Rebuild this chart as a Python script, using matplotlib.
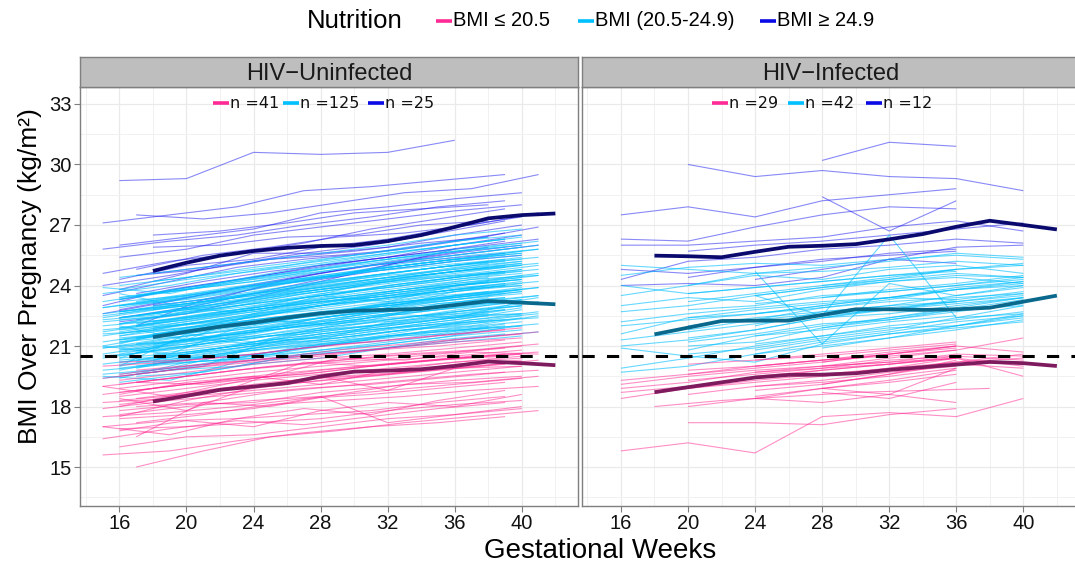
import matplotlib
matplotlib.use("Agg")
import matplotlib.pyplot as plt
from matplotlib.collections import LineCollection
from matplotlib.lines import Line2D
from matplotlib.ticker import MultipleLocator

# ---------------------------------------------------------------------------
# Data: BMI trajectories per woman, (first visit week, BMI at every 4 weeks)
# ---------------------------------------------------------------------------
STEP = 4

UNINF_HIGH = [
    (16, [29.2, 29.3, 30.6, 30.5, 30.6, 31.2]),
    (15, [27.1, 27.5, 27.9, 28.7, 28.9, 29.2, 29.5]),
    (17, [27.5, 27.3, 27.6, 28.1, 28.6, 28.8, 29.5]),
    (16, [26.0, 26.4, 26.8, 27.6, 27.9, 28.3, 28.6]),
    (15, [25.8, 26.2, 26.5, 27.0, 27.4, 27.9, 28.2]),
    (18, [26.5, 26.7, 27.1, 27.6, 27.8, 28.0]),
    (16, [25.4, 25.8, 26.5, 26.9, 27.3, 27.7, 28.0]),
    (15, [24.6, 25.2, 25.6, 26.1, 26.8, 27.3, 27.8]),
    (17, [24.8, 25.5, 25.9, 26.4, 26.6, 27.0, 27.6]),
    (16, [24.3, 25.0, 25.3, 25.9, 26.3, 26.9, 27.4]),
    (18, [25.9, 26.0, 26.4, 26.5, 27.0, 27.2]),
    (15, [24.0, 24.5, 25.1, 25.6, 26.0, 26.6, 27.2]),
    (16, [23.8, 24.6, 25.6, 25.6, 25.9, 26.5, 27.0]),
    (17, [24.5, 24.8, 25.3, 25.5, 25.8, 26.3, 26.9]),
    (15, [23.5, 24.2, 24.9, 25.3, 25.6, 26.1, 26.6]),
    (16, [23.3, 23.9, 24.4, 25.0, 25.4, 26.0, 26.5]),
    (18, [24.6, 25.0, 25.4, 25.7, 26.1, 26.4]),
    (15, [23.0, 23.8, 24.3, 24.8, 25.3, 25.7, 26.2]),
    (16, [22.8, 23.4, 24.0, 24.6, 25.1, 25.6, 26.0]),
    (17, [23.6, 24.2, 24.7, 25.1, 25.5, 25.9, 26.3]),
    (15, [22.6, 23.2, 23.9, 24.5, 25.0, 25.3, 25.6]),
    (16, [22.4, 22.9, 23.6, 24.3, 24.8, 25.2, 25.5]),
    (18, [23.0, 23.4, 24.3, 24.9, 25.4, 25.9]),
    (16, [22.2, 22.6, 23.4, 24.2, 25.0, 25.8]),
    (17, [22.0, 23.3, 24.0, 24.5, 25.2, 25.6, 26.0]),
]

UNINF_MID = [
    (16, [19.2, 19.6, 20.1, 20.4, 20.9, 21.2, 21.5]),
    (15, [19.4, 19.8, 20.0, 20.6, 20.8, 21.3, 21.6]),
    (17, [19.5, 19.7, 20.3, 20.7, 21.0, 21.4, 21.7]),
    (16, [19.6, 20.0, 20.5, 20.8, 21.1, 21.5, 21.8]),
    (18, [19.7, 20.2, 20.6, 21.0, 21.4, 21.9]),
    (15, [19.8, 20.1, 20.4, 21.0, 21.3, 21.7, 22.0]),
    (16, [19.9, 20.3, 20.8, 21.2, 21.5, 21.9, 22.2]),
    (17, [20.0, 20.4, 20.6, 21.1, 21.6, 21.8, 22.1]),
    (16, [20.0, 20.6, 21.0, 21.3, 21.7, 22.0, 22.4]),
    (15, [20.1, 20.5, 20.9, 21.4, 21.8, 22.1, 22.3]),
    (18, [20.2, 20.7, 21.1, 21.5, 21.9, 22.2]),
    (16, [20.2, 20.5, 21.0, 21.6, 22.0, 22.4, 22.6]),
    (17, [20.3, 20.8, 21.2, 21.5, 21.9, 22.3, 22.7]),
    (15, [20.4, 20.9, 21.3, 21.7, 22.0, 22.5, 22.8]),
    (16, [20.4, 20.7, 21.1, 21.8, 22.1, 22.4, 22.9]),
    (16, [20.5, 21.0, 21.5, 21.9, 22.3, 22.7, 23.0]),
    (18, [20.6, 21.0, 21.4, 21.8, 22.2, 22.6]),
    (15, [20.6, 21.1, 21.6, 22.0, 22.4, 22.8, 23.1]),
    (17, [20.7, 21.0, 21.5, 22.0, 22.3, 22.8, 23.2]),
    (16, [20.8, 21.3, 21.7, 22.1, 22.5, 22.9, 23.3]),
    (16, [20.8, 21.1, 21.6, 22.2, 22.6, 23.0, 23.2]),
    (15, [20.9, 21.4, 21.8, 22.3, 22.7, 23.1, 23.4]),
    (18, [21.0, 21.5, 21.9, 22.3, 22.8, 23.2]),
    (16, [21.0, 21.3, 21.8, 22.4, 22.9, 23.3, 23.6]),
    (17, [21.1, 21.6, 22.0, 22.5, 22.8, 23.2, 23.5]),
    (15, [21.2, 21.7, 22.1, 22.5, 23.0, 23.4, 23.7]),
    (16, [21.2, 21.5, 22.0, 22.6, 23.1, 23.5, 23.8]),
    (16, [21.3, 21.8, 22.3, 22.7, 23.0, 23.3, 23.7]),
    (18, [21.4, 21.9, 22.3, 22.8, 23.2, 23.6]),
    (17, [21.4, 21.7, 22.2, 22.7, 23.1, 23.6, 23.9]),
    (15, [21.5, 22.0, 22.4, 22.9, 23.3, 23.6, 24.0]),
    (16, [21.5, 21.9, 22.5, 22.8, 23.2, 23.7, 24.1]),
    (16, [21.6, 22.1, 22.4, 23.0, 23.4, 23.8, 24.0]),
    (17, [21.7, 22.0, 22.6, 23.0, 23.5, 23.9, 24.2]),
    (15, [21.7, 22.2, 22.7, 23.1, 23.4, 23.8, 24.1]),
    (18, [21.8, 22.3, 22.8, 23.2, 23.6, 24.0]),
    (16, [21.8, 22.1, 22.6, 23.1, 23.6, 24.0, 24.3]),
    (16, [21.9, 22.4, 22.8, 23.3, 23.7, 24.1, 24.4]),
    (17, [22.0, 22.5, 22.9, 23.3, 23.8, 24.1, 24.5]),
    (15, [22.0, 22.3, 22.8, 23.4, 23.8, 24.2, 24.6]),
    (16, [22.1, 22.6, 23.0, 23.5, 23.9, 24.3, 24.6]),
    (16, [22.1, 22.4, 22.9, 23.4, 24.0, 24.4, 24.7]),
    (18, [22.2, 22.7, 23.1, 23.6, 24.0, 24.4]),
    (17, [22.3, 22.8, 23.2, 23.6, 24.1, 24.5, 24.8]),
    (15, [22.3, 22.6, 23.1, 23.7, 24.2, 24.6, 24.9]),
    (16, [22.4, 22.9, 23.3, 23.8, 24.2, 24.6, 25.0]),
    (16, [22.4, 22.8, 23.4, 23.9, 24.3, 24.7, 25.1]),
    (17, [22.5, 23.0, 23.5, 23.9, 24.4, 24.8, 25.1]),
    (15, [22.6, 23.0, 23.4, 24.0, 24.5, 24.9, 25.2]),
    (18, [22.6, 23.1, 23.6, 24.0, 24.5, 24.9]),
    (16, [22.7, 23.1, 23.6, 24.1, 24.6, 25.0, 25.3]),
    (16, [22.7, 23.2, 23.7, 24.2, 24.6, 25.0, 25.4]),
    (17, [22.8, 23.2, 23.8, 24.3, 24.7, 25.1, 25.4]),
    (15, [22.9, 23.3, 23.8, 24.3, 24.8, 25.2, 25.5]),
    (16, [22.9, 23.4, 23.9, 24.4, 24.9, 25.3, 25.6]),
    (16, [23.0, 23.5, 24.0, 24.5, 24.9, 25.3, 25.7]),
    (18, [23.1, 23.6, 24.1, 24.6, 25.0, 25.4]),
    (17, [23.1, 23.6, 24.1, 24.6, 25.1, 25.5, 25.8]),
    (15, [23.2, 23.7, 24.2, 24.7, 25.2, 25.6, 25.9]),
    (16, [23.3, 23.8, 24.2, 24.8, 25.2, 25.7, 26.0]),
    (16, [23.4, 23.9, 24.4, 24.8, 25.3, 25.8, 26.1]),
    (17, [23.5, 24.0, 24.5, 25.0, 25.4, 25.8, 26.2]),
    (15, [23.6, 24.0, 24.6, 25.1, 25.5, 25.9, 26.3]),
    (16, [23.8, 24.3, 24.7, 25.1, 25.6, 26.0, 26.4]),
    (16, [24.0, 24.4, 24.9, 25.3, 25.7, 26.2, 26.5]),
    (18, [24.2, 24.6, 25.0, 25.5, 26.0, 26.4]),
    (16, [24.4, 24.8, 25.2, 25.6, 26.0, 26.5, 26.8]),
    (15, [23.9, 23.6, 24.3, 24.9, 25.4, 25.9, 26.3]),
    (16, [19.4, 20.2, 20.4, 21.1, 21.5, 21.6, 22.0]),
    (15, [19.6, 19.9, 20.7, 21.0, 21.2, 21.6, 22.1]),
    (17, [19.9, 20.5, 20.9, 21.2, 21.7, 22.3, 22.6]),
    (16, [20.1, 20.3, 20.9, 21.5, 21.9, 22.1, 22.5]),
    (18, [20.3, 20.9, 21.3, 21.6, 22.1, 22.5]),
    (15, [20.5, 20.8, 21.4, 21.6, 22.0, 22.4, 22.8]),
    (16, [20.6, 21.2, 21.5, 22.0, 22.4, 22.6, 23.0]),
    (17, [20.8, 21.2, 21.8, 22.1, 22.4, 22.9, 23.4]),
    (16, [20.9, 21.3, 21.7, 22.4, 22.8, 23.0, 23.3]),
    (15, [21.0, 21.6, 22.0, 22.3, 22.7, 23.2, 23.6]),
    (18, [21.1, 21.4, 22.0, 22.5, 22.9, 23.4]),
    (16, [21.3, 21.6, 22.2, 22.6, 23.0, 23.5, 23.9]),
    (17, [21.4, 21.9, 22.4, 22.7, 23.2, 23.5, 23.9]),
    (16, [21.5, 22.1, 22.6, 23.0, 23.3, 23.8, 24.2]),
    (15, [21.6, 21.8, 22.3, 22.9, 23.4, 23.7, 24.0]),
    (16, [21.7, 22.2, 22.7, 23.2, 23.5, 24.0, 24.3]),
    (18, [21.9, 22.2, 22.7, 23.3, 23.7, 24.2]),
    (17, [22.0, 22.4, 22.9, 23.4, 23.8, 24.3, 24.5]),
    (16, [22.1, 22.7, 23.1, 23.5, 24.0, 24.4, 24.8]),
    (15, [22.2, 22.5, 23.0, 23.6, 24.0, 24.4, 24.7]),
    (16, [22.4, 22.8, 23.2, 23.7, 24.2, 24.7, 25.0]),
    (17, [22.5, 22.9, 23.4, 23.8, 24.3, 24.6, 25.0]),
    (16, [22.6, 23.1, 23.5, 24.0, 24.4, 24.8, 25.2]),
    (18, [22.8, 23.3, 23.7, 24.2, 24.6, 25.1]),
    (15, [22.9, 23.4, 23.9, 24.2, 24.7, 25.0, 25.3]),
    (16, [23.0, 23.3, 23.8, 24.4, 24.8, 25.2, 25.5]),
    (17, [23.2, 23.7, 24.2, 24.5, 25.0, 25.4, 25.8]),
    (16, [23.4, 23.8, 24.3, 24.7, 25.1, 25.5, 25.9]),
    (15, [19.5, 19.3, 20.2, 20.6, 21.0, 21.4, 21.9]),
    (16, [19.8, 20.4, 20.6, 21.0, 21.5, 21.8, 22.0]),
    (17, [20.2, 20.5, 21.0, 21.3, 21.8, 22.0, 22.5]),
    (16, [20.3, 20.6, 21.2, 21.6, 21.9, 22.3, 22.8]),
    (18, [20.5, 20.9, 21.5, 21.9, 22.2, 22.7]),
    (16, [20.7, 21.0, 21.4, 21.8, 22.3, 22.7, 23.0]),
    (15, [20.9, 21.2, 21.7, 22.1, 22.5, 22.8, 23.3]),
    (17, [21.1, 21.4, 21.9, 22.4, 22.8, 23.1, 23.5]),
    (16, [21.2, 21.8, 22.2, 22.5, 22.9, 23.4, 23.8]),
    (16, [21.4, 21.7, 22.1, 22.6, 23.1, 23.4, 23.7]),
    (18, [21.6, 22.1, 22.5, 22.9, 23.4, 23.7]),
    (15, [21.8, 22.1, 22.6, 23.0, 23.5, 23.9, 24.2]),
    (16, [21.9, 22.3, 22.8, 23.2, 23.6, 24.0, 24.5]),
    (17, [22.1, 22.6, 23.0, 23.4, 23.8, 24.2, 24.6]),
    (16, [22.3, 22.6, 23.1, 23.6, 23.9, 24.4, 24.8]),
    (15, [22.5, 22.9, 23.3, 23.8, 24.3, 24.6, 25.0]),
    (16, [22.7, 23.0, 23.6, 23.9, 24.4, 24.9, 25.2]),
    (18, [23.0, 23.4, 23.8, 24.3, 24.8, 25.2]),
    (16, [23.2, 23.5, 24.0, 24.4, 24.9, 25.3, 25.6]),
    (17, [23.5, 23.9, 24.3, 24.8, 25.2, 25.6, 26.0]),
    (16, [20.0, 21.6, 21.2, 21.9, 22.6, 22.4, 23.2]),
    (15, [21.0, 20.6, 21.9, 22.0, 22.3, 23.1, 23.4]),
    (16, [22.0, 21.3, 22.6, 23.5, 23.2, 24.0, 24.3]),
    (17, [19.6, 20.0, 21.3, 21.4, 21.8, 22.2, 22.4]),
    (16, [23.6, 22.9, 23.6, 24.1, 24.5, 24.8, 25.1]),
    (18, [20.1, 20.3, 20.8, 21.2, 21.7, 22.0]),
    (16, [20.4, 21.4, 21.1, 21.3, 22.2, 22.5, 22.6]),
    (15, [22.4, 22.9, 22.7, 23.4, 24.1, 24.4, 24.7]),
    (16, [21.1, 21.9, 22.3, 22.1, 22.9, 23.7, 24.0]),
]

UNINF_LOW = [
    (15, [15.6, 15.8, 16.3, 16.7, 17.0, 17.2, 17.5]),
    (16, [16.0, 16.5, 16.6, 17.0, 17.4, 17.6, 18.0]),
    (17, [15.0, 15.8, 16.5, 16.8, 17.2, 17.5, 17.8]),
    (15, [16.4, 16.9, 17.3, 17.1, 17.5, 17.9, 18.2]),
    (16, [16.9, 17.0, 17.2, 17.4, 17.8, 18.1, 18.3]),
    (15, [17.0, 17.3, 17.4, 17.6, 17.8, 18.2, 18.5]),
    (16, [17.4, 17.6, 17.9, 18.5, 17.2, 17.6, 17.9]),
    (17, [17.2, 17.6, 18.1, 18.3, 18.5, 18.8, 19.0]),
    (15, [17.5, 17.7, 18.0, 18.4, 18.6, 18.9, 19.2]),
    (16, [17.6, 18.0, 18.3, 18.5, 18.8, 19.1, 19.4]),
    (16, [17.8, 18.1, 18.2, 18.7, 19.0, 19.3, 19.5]),
    (15, [17.9, 18.3, 18.6, 18.9, 19.1, 19.4, 19.7]),
    (17, [18.0, 18.2, 18.7, 19.0, 19.3, 19.6, 19.8]),
    (16, [18.1, 18.5, 18.8, 19.1, 19.4, 19.7, 20.0]),
    (15, [18.2, 18.4, 18.9, 19.2, 19.5, 19.8, 20.1]),
    (16, [18.3, 18.6, 19.0, 19.4, 19.6, 19.9, 20.2]),
    (17, [18.4, 18.8, 19.2, 19.5, 19.7, 20.0, 20.3]),
    (16, [18.5, 18.9, 19.3, 19.6, 19.9, 20.2, 20.4]),
    (15, [18.6, 19.0, 19.4, 19.6, 20.0, 20.3, 20.6]),
    (16, [18.7, 19.1, 19.4, 19.8, 20.1, 20.4, 20.6]),
    (17, [18.8, 19.2, 19.6, 19.9, 20.2, 20.5, 20.7]),
    (16, [18.9, 19.3, 19.7, 20.0, 20.3, 20.5, 20.8]),
    (15, [19.0, 19.4, 19.8, 20.1, 20.3, 20.6, 20.9]),
    (16, [19.1, 19.5, 19.9, 20.2, 20.5, 20.7, 21.0]),
    (17, [19.2, 19.6, 20.0, 20.3, 20.6, 20.8, 21.1]),
    (16, [19.3, 19.7, 20.1, 20.4, 20.6, 20.9, 21.2]),
    (15, [19.4, 19.8, 20.2, 20.5, 20.8, 21.0, 21.3]),
    (16, [19.5, 19.9, 20.2, 20.5, 20.9, 21.2, 21.4]),
    (16, [19.6, 20.0, 20.3, 20.6, 20.9, 21.3, 21.6]),
    (17, [19.8, 20.1, 20.4, 20.8, 21.1, 21.4, 21.7]),
    (15, [20.0, 20.2, 20.5, 20.9, 21.2, 21.5, 21.8]),
    (16, [20.2, 20.3, 20.6, 21.0, 21.3, 21.6, 21.9]),
    (16, [16.8, 17.3, 17.0, 17.8, 18.2, 18.0, 18.6]),
    (15, [17.0, 16.6, 17.4, 17.9, 17.6, 18.3, 18.8]),
    (17, [16.5, 18.2, 18.0, 18.6, 19.1, 19.2, 19.5]),
    (16, [18.4, 17.8, 19.0, 19.5, 18.8, 19.9, 20.0]),
    (15, [19.0, 18.5, 19.0, 20.2, 20.0, 20.3, 20.5]),
    (16, [18.6, 19.2, 19.5, 19.1, 19.8, 20.2, 20.5]),
    (16, [17.5, 18.3, 18.9, 19.3, 19.6, 20.1, 20.3]),
    (17, [19.2, 19.1, 19.5, 20.4, 20.3, 20.7, 20.6]),
    (16, [18.0, 18.7, 19.4, 19.7, 20.1, 20.4, 20.6]),
]

INF_HIGH = [
    (20, [30.0, 29.4, 29.7, 29.4, 29.3, 28.7]),
    (28, [30.2, 31.1, 30.9]),
    (16, [27.5, 27.9, 27.4, 28.2, 28.5, 28.8]),
    (28, [28.4, 26.7, 28.2]),
    (16, [26.3, 26.2, 26.9, 27.5, 27.9, 27.8]),
    (16, [26.0, 26.0, 26.2, 26.4, 26.9, 27.2, 26.7]),
    (20, [25.7, 26.0, 26.2, 26.5, 26.8, 27.1]),
    (16, [24.3, 25.2, 25.4, 25.8, 26.0, 26.3, 26.1]),
    (20, [24.4, 24.9, 25.2, 25.6, 25.8]),
    (16, [24.8, 24.6, 24.9, 25.3, 25.5, 25.7]),
    (24, [24.3, 24.8, 25.3, 25.9, 26.0]),
    (16, [24.0, 24.1, 24.0, 24.4, 25.3, 25.1]),
]

INF_MID = [
    (16, [25.0, 24.8, 24.6, 24.7, 24.9, 25.2, 25.0]),
    (16, [24.5, 24.9, 25.1, 25.0, 25.3, 25.5, 25.3]),
    (16, [23.5, 24.0, 24.5, 24.3, 24.8, 25.0, 24.6]),
    (16, [23.0, 23.4, 23.2, 23.8, 24.2, 24.5, 24.4]),
    (16, [22.7, 23.0, 23.5, 23.9, 24.3, 24.8, 25.1]),
    (16, [22.2, 22.6, 22.9, 23.2, 23.4, 23.8, 24.1]),
    (16, [21.6, 22.4, 22.8, 23.1, 23.4, 23.9, 24.2]),
    (16, [20.9, 20.5, 20.2, 21.1, 21.6, 21.9, 22.2]),
    (16, [19.9, 20.4, 21.0, 21.5, 21.9, 22.0, 22.5]),
    (16, [19.7, 20.0, 20.6, 21.0, 21.4, 21.8, 22.3]),
    (20, [24.0, 24.6, 24.9, 25.2, 25.6, 25.4]),
    (20, [23.2, 23.6, 24.0, 24.3, 24.6, 24.4]),
    (20, [22.8, 23.0, 23.5, 23.7, 24.0, 24.3]),
    (20, [22.4, 22.6, 22.9, 23.3, 23.8, 24.0]),
    (20, [21.8, 22.3, 22.6, 22.8, 23.2, 23.6]),
    (20, [21.4, 21.8, 22.4, 22.6, 23.0, 23.4]),
    (20, [21.0, 21.2, 21.9, 22.3, 22.7, 23.1]),
    (20, [20.6, 20.9, 21.4, 21.8, 22.4, 22.6]),
    (24, [24.7, 21.1, 24.1, 23.5, 24.0]),
    (24, [21.5, 22.0, 22.4, 22.8, 23.3]),
    (24, [22.0, 22.7, 23.0, 23.5, 23.9]),
    (24, [22.3, 22.9, 23.2, 23.4, 23.6]),
    (24, [22.6, 23.0, 23.4, 23.8, 24.2]),
    (24, [23.1, 23.4, 23.8, 24.1, 24.5]),
    (24, [23.5, 23.9, 24.2, 24.4, 24.1]),
    (24, [21.1, 21.5, 22.0, 22.3, 22.7]),
    (24, [20.8, 21.3, 21.7, 22.2, 22.5]),
    (24, [23.5, 22.5, 26.5, 22.4, 23.0]),
    (28, [22.4, 22.8, 23.3, 23.7]),
    (28, [21.9, 22.4, 22.9, 23.4]),
    (28, [23.4, 23.7, 24.0, 24.4]),
    (28, [20.9, 21.4, 22.0, 22.6]),
    (16, [21.0, 21.3, 21.8, 22.4, 22.9, 23.2, 23.5]),
    (16, [21.3, 21.7, 22.1, 22.5, 22.8, 23.1, 23.4]),
    (20, [22.0, 22.4, 22.7, 23.0, 23.2]),
    (20, [20.8, 21.5, 21.8, 22.2, 22.5]),
    (24, [20.6, 21.2, 21.6, 22.0, 22.4]),
    (16, [22.0, 22.3, 22.6, 23.0, 23.4, 23.3]),
    (20, [23.6, 23.9, 24.2, 24.5, 24.8]),
    (16, [24.0, 23.6, 23.9, 24.2, 24.5, 24.7]),
    (28, [24.0, 24.4, 24.8, 25.0]),
    (20, [21.2, 21.6, 22.1, 22.3, 22.8, 23.0]),
]

INF_LOW = [
    (16, [15.8, 16.2, 15.7, 17.5, 17.7, 17.5, 18.4]),
    (20, [17.2, 17.2, 17.1, 17.6, 17.9]),
    (18, [18.0, 18.3, 18.5, 18.7, 18.8, 18.9]),
    (16, [19.1, 19.5, 19.8, 20.0, 20.2, 20.4, 20.0]),
    (16, [18.9, 19.2, 19.7, 19.9, 20.3, 20.5, 20.3]),
    (16, [18.7, 19.0, 19.4, 19.8, 20.1, 20.4, 19.5]),
    (16, [18.4, 18.9, 19.3, 19.6, 19.9, 20.2, 20.6]),
    (20, [18.0, 18.4, 18.9, 19.2, 19.6]),
    (20, [18.6, 19.0, 19.2, 19.5, 19.9]),
    (20, [19.3, 19.6, 19.9, 20.1, 20.5]),
    (20, [19.8, 20.0, 20.3, 20.6, 20.9]),
    (20, [20.1, 20.3, 20.6, 20.9, 21.2]),
    (24, [18.4, 18.2, 18.6, 18.2]),
    (24, [18.5, 18.9, 19.3, 19.8]),
    (24, [19.0, 19.3, 19.7, 20.0]),
    (24, [19.5, 19.8, 20.1, 20.4]),
    (24, [20.0, 20.3, 20.5, 20.8]),
    (24, [20.3, 20.5, 20.8, 21.1]),
    (28, [18.7, 18.4, 19.2]),
    (28, [18.9, 18.6, 19.9]),
    (28, [19.5, 19.9, 20.4]),
    (28, [20.2, 20.6, 21.0]),
    (28, [19.1, 19.6, 20.3]),
    (24, [19.7, 20.0, 20.2, 20.6, 20.5]),
    (20, [19.6, 19.9, 20.2, 20.6, 21.0, 20.7]),
    (24, [18.8, 19.1, 19.6, 20.1, 19.9]),
    (28, [20.0, 20.4, 20.8, 21.4]),
    (16, [19.3, 19.6, 20.0, 20.3, 20.7, 21.0]),
    (20, [18.9, 19.2, 19.5, 19.8, 20.2, 20.4]),
]

# Group means, evaluated every 2 weeks
MEAN_WEEKS = [18, 20, 22, 24, 26, 28, 30, 32, 34, 36, 38, 40, 42]
UNINF_MEAN_LOW = [18.25, 18.53, 18.83, 18.99, 19.16, 19.49, 19.73, 19.78, 19.85, 20.01, 20.23, 20.15, 20.05]
UNINF_MEAN_MID = [21.44, 21.71, 21.96, 22.16, 22.41, 22.62, 22.75, 22.79, 22.84, 23.03, 23.23, 23.15, 23.07]
UNINF_MEAN_HIGH = [24.72, 25.13, 25.48, 25.71, 25.87, 25.96, 26.00, 26.20, 26.50, 26.90, 27.33, 27.49, 27.57]
INF_MEAN_LOW = [18.71, 18.96, 19.20, 19.44, 19.57, 19.58, 19.65, 19.82, 19.95, 20.08, 20.21, 20.15, 20.01]
INF_MEAN_MID = [21.58, 21.91, 22.24, 22.26, 22.26, 22.54, 22.82, 22.82, 22.79, 22.82, 22.90, 23.20, 23.50]
INF_MEAN_HIGH = [25.48, 25.45, 25.40, 25.67, 25.92, 25.97, 26.05, 26.29, 26.55, 26.91, 27.21, 27.00, 26.78]

PANEL_TITLES = ["HIV\u2212Uninfected", "HIV\u2212Infected"]
GROUP_LABELS = ["BMI \u2264 20.5", "BMI (20.5-24.9)", "BMI \u2265 24.9"]
CUTOFF = 20.5
X_TICKS = [16, 20, 24, 28, 32, 36, 40]
Y_TICKS = [15, 18, 21, 24, 27, 30, 33]
COUNTS = [[41, 125, 25], [29, 42, 12]]

# ---------------------------------------------------------------------------
# Styling
# ---------------------------------------------------------------------------
LINE_COLORS = ["#FF1F8E", "#00BFFF", "#1414F0"]
LINE_ALPHA = [0.5, 0.6, 0.5]
MEAN_COLORS = ["#7E1A5E", "#0A688C", "#0A0A6E"]
KEY_COLORS = ["#FF2A95", "#00C0FF", "#0A0AE6"]
GRID_MAJOR = "#EAEAEA"
GRID_MINOR = "#F1F1F1"
FRAME = "#7F7F7F"
FONT = ["Liberation Sans", "DejaVu Sans"]
KEY_FONT = ["DejaVu Sans"]

plt.rcParams["font.family"] = FONT

W, H = 1075, 567
fig = plt.figure(figsize=(W / 100, H / 100), dpi=100)


def fx(px):
    return px / W


def fy(py):
    return 1 - py / H


def segments(trajs):
    segs = []
    for start, vals in trajs:
        weeks = [start + STEP * i for i in range(len(vals))]
        segs.append(list(zip(weeks, vals)))
    return segs


panels = [
    (UNINF_LOW, UNINF_MID, UNINF_HIGH, UNINF_MEAN_LOW, UNINF_MEAN_MID, UNINF_MEAN_HIGH),
    (INF_LOW, INF_MID, INF_HIGH, INF_MEAN_LOW, INF_MEAN_MID, INF_MEAN_HIGH),
]

AX_LEFT = [80, 581.5]
AX_W = 498
AX_TOP, AX_BOT = 87, 506
STRIP_TOP = 57

for p, (title, data) in enumerate(zip(PANEL_TITLES, panels)):
    low, mid, high, m_low, m_mid, m_high = data
    ax = fig.add_axes([fx(AX_LEFT[p]), fy(AX_BOT), AX_W / W, (AX_BOT - AX_TOP) / H])
    ax.set_xlim(13.65, 43.35)
    ax.set_ylim(13.07, 33.84)
    ax.set_facecolor("white")

    ax.xaxis.set_minor_locator(MultipleLocator(2))
    ax.set_xticks(X_TICKS)
    ax.yaxis.set_minor_locator(MultipleLocator(1.5))
    ax.set_yticks(Y_TICKS)
    ax.grid(which="major", color=GRID_MAJOR, lw=0.9, zorder=0)
    ax.grid(which="minor", color=GRID_MINOR, lw=0.7, zorder=0)
    ax.set_axisbelow(True)

    ax.tick_params(which="major", direction="out", length=4, width=0.8,
                   color=FRAME, labelsize=14.5, labelcolor="#111111", pad=2)
    ax.tick_params(which="minor", length=0)
    if p == 1:
        ax.tick_params(axis="y", which="major", length=0, labelleft=False)
    for s in ax.spines.values():
        s.set_color(FRAME)
        s.set_linewidth(1.0)

    # individual trajectories
    for g in (2, 1, 0):
        trajs = (low, mid, high)[g]
        lc = LineCollection(segments(trajs), colors=LINE_COLORS[g], linewidths=0.8,
                            alpha=LINE_ALPHA[g], zorder=2)
        ax.add_collection(lc)

    # group means
    for means, col in zip((m_low, m_mid, m_high), MEAN_COLORS):
        ax.plot(MEAN_WEEKS, means, color=col, lw=2.7, solid_capstyle="butt", zorder=4)

    ax.axhline(CUTOFF, color="black", lw=2.2, dashes=(4, 4), zorder=5)

    # facet strip
    sax = fig.add_axes([fx(AX_LEFT[p]), fy(AX_TOP), AX_W / W, (AX_TOP - STRIP_TOP) / H])
    sax.set_facecolor("#BEBEBE")
    sax.set_xticks([])
    sax.set_yticks([])
    for s in sax.spines.values():
        s.set_color(FRAME)
        s.set_linewidth(1.0)
    sax.text(0.5, 0.45, title, transform=sax.transAxes, ha="center", va="center",
             fontsize=17, color="#1A1A1A")

# group counts inside each panel
KEY_X = [[213, 283, 368], [712, 788, 866]]
for p in range(2):
    for g in range(3):
        x0 = KEY_X[p][g]
        fig.add_artist(Line2D([fx(x0), fx(x0 + 16)], [fy(103), fy(103)],
                              color=KEY_COLORS[g], lw=2.6, solid_capstyle="butt"))
        fig.text(fx(x0 + 17), fy(103), f"n ={COUNTS[p][g]}", ha="left", va="center",
                 fontsize=11.5, family=KEY_FONT, color="#111111")

# top legend
fig.text(fx(307), fy(21), "Nutrition", ha="left", va="center", fontsize=18.5)
LEG_X = [436, 578, 760]
for g in range(3):
    x0 = LEG_X[g]
    fig.add_artist(Line2D([fx(x0), fx(x0 + 16)], [fy(21), fy(21)],
                          color=KEY_COLORS[g], lw=2.6, solid_capstyle="butt"))
    fig.text(fx(x0 + 17), fy(21), GROUP_LABELS[g], ha="left", va="center", fontsize=14.5)

# axis titles
fig.text(fx(30), fy(276), "BMI Over Pregnancy (kg/m\u00b2)", rotation=90,
         ha="center", va="center", fontsize=19)
fig.text(fx(600), fy(551), "Gestational Weeks", ha="center", va="center", fontsize=20)

fig.savefig("out.png", dpi=100, facecolor="white")
